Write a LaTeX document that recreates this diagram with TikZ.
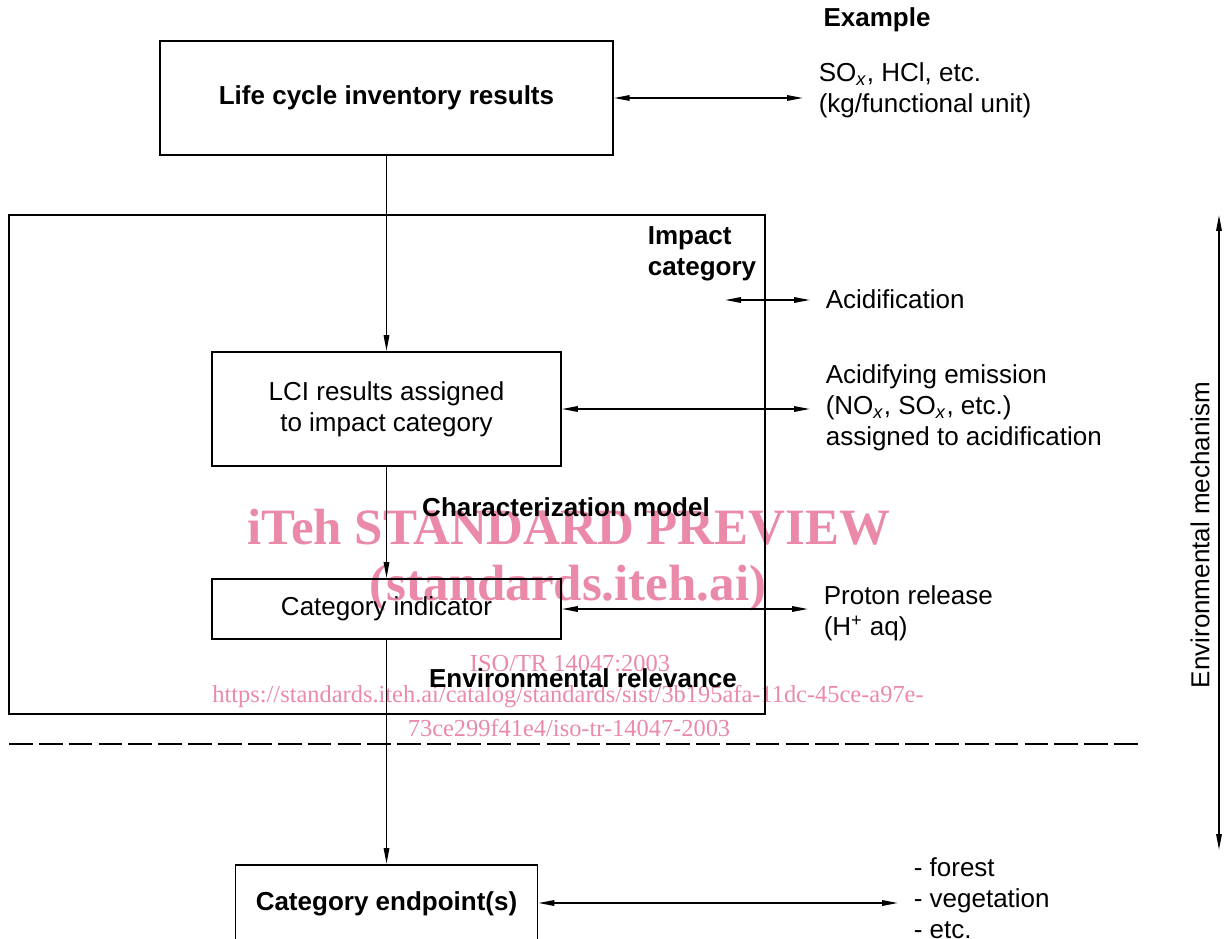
\documentclass[tikz,border=0pt]{standalone}
\usepackage{fontspec}
\setmainfont{Liberation Sans}
\newfontfamily\wmfont{Liberation Serif}
\usetikzlibrary{arrows.meta}
\definecolor{wmpink}{RGB}{234,138,168}
\newcommand\txtsize{\fontsize{14.8pt}{17.6pt}\selectfont}
\newcommand\sub[1]{\textsubscript{\textit{#1}}}
\tikzset{
  box/.style={draw,line width=0.9pt,align=center,inner sep=0pt},
  info/.style={anchor=west,align=left,inner xsep=0.3cm,inner ysep=0pt},
  head/.style={font=\txtsize\bfseries},
  wm/.style={text=wmpink,inner sep=0pt}
}
\begin{document}
\begin{tikzpicture}[x=0.02cm,y=-0.02cm,line width=0.9pt,
  >={Triangle[length=0.32cm,width=0.11cm]},
  font=\txtsize]
\clip (0,0) rectangle (1224,939);
% watermark
\node[wm,font=\wmfont\bfseries\fontsize{29pt}{32pt}\selectfont] (wmA) at (569,527) {iTeh STANDARD PREVIEW};
\node[wm,font=\wmfont\bfseries\fontsize{29pt}{32pt}\selectfont] (wmB) at (568,588) {(standards.iteh.ai)};
\node[wm,font=\wmfont\fontsize{13.9pt}{16pt}\selectfont] (wmC) at (570,664) {ISO/TR 14047:2003};
\node[wm,font=\wmfont\fontsize{13.9pt}{16pt}\selectfont] (wmD) at (568,697) {https://standards.iteh.ai/catalog/standards/sist/3b195afa-11dc-45ce-a97e-};
\node[wm,font=\wmfont\fontsize{13.9pt}{16pt}\selectfont] (wmE) at (569,728) {73ce299f41e4/iso-tr-14047-2003};
% boxes
\node[box,head,minimum width=9.06cm,minimum height=2.28cm] (lci) at (386.5,98) {Life cycle inventory results};
\node[box,minimum width=15.12cm,minimum height=9.98cm] (frame) at (387,464.5) {};
\node[box,minimum width=6.98cm,minimum height=2.28cm] (assign) at (386.5,409) {LCI results assigned\\to impact category};
\node[box,minimum width=6.98cm,minimum height=1.2cm] (indic) at (386.5,609) {Category indicator};
\node[box,head,minimum width=6.04cm,anchor=north,text height=0.92cm,text depth=1.4cm] (endpt) at (386.5,864) {Category endpoint(s)};
% labels
\node[head] (example) at (877,20) {Example};
\node[head,info,inner xsep=0pt] (impcat) at (647,254) {Impact\\category};
\node[head] (charmod) at (566,507) {Characterization model};
\node[head] (envrel) at (583,678) {Environmental relevance};
\node[info] (exLci) at (803,90) {SO\sub{x}, HCl, etc.\\(kg/functional unit)};
\node[info] (exAcid) at (810,299) {Acidification};
\node[info] (exEmis) at (810,408) {Acidifying emission\\(NO\sub{x}, SO\sub{x}, etc.)\\assigned to acidification};
\node[info] (exProt) at (808,613) {Proton release\\(H\textsuperscript{+} aq)};
\node[info] (exEnd) at (898,898) {- forest\\- vegetation\\- etc.};
\node[rotate=90] (mech) at (1200,535) {Environmental mechanism};
% flow
\draw[->] (lci) -- (assign);
\draw[->] (assign) -- (indic);
\draw[->] (indic) -- (endpt);
\draw[<->] (lci.east) -- (lci.east -| exLci.west);
\coordinate (acidL) at (725,300);
\draw[<->] (acidL) -- (acidL -| exAcid.west);
\draw[<->] (assign.east) -- (assign.east -| exEmis.west);
\draw[<->] (indic.east) -- (indic.east -| exProt.west);
\draw[<->] (endpt.east |- 0,903) coordinate (endR) -- (endR -| exEnd.west);
\coordinate (mechTop) at (1219,215);
\coordinate (mechBot) at (1219,850);
\draw[<->] (mechTop) -- (mechBot);
\draw[line width=1.1pt,dash pattern=on 13.5pt off 3.5pt] (9,744) -- (1143,744);
\end{tikzpicture}
\end{document}
